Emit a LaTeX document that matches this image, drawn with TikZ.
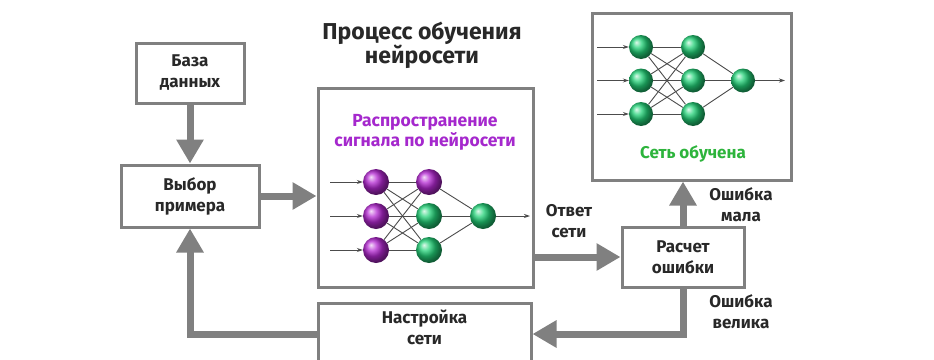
\documentclass[tikz,border=0pt]{standalone}
\usepackage{fontspec}
\setmainfont{Fira Sans}
\usetikzlibrary{arrows.meta,positioning}
\definecolor{linegray}{RGB}{128,128,128}
\definecolor{textgray}{RGB}{40,40,40}
\definecolor{nnpurple}{RGB}{180,40,210}
\definecolor{nngreen}{RGB}{35,210,120}
\definecolor{labelpurple}{RGB}{165,40,205}
\definecolor{labelgreen}{RGB}{45,180,60}

\begin{document}
\begin{tikzpicture}[
		x=1pt, y=-1pt,
		every node/.style={font=\bfseries\fontsize{17}{21}\selectfont, text=textgray, align=center},
		block/.style={draw=linegray, line width=3pt, fill=white, rectangle, inner sep=0pt},
		conn/.style={draw=linegray, line width=7pt, -{Triangle[width=26pt,length=24pt]}},
		neuron/.style={circle, inner sep=0pt, minimum size=26pt},
		violetn/.style={neuron, ball color=nnpurple},
		greenn/.style={neuron, ball color=nngreen},
		wire/.style={draw=black!70, line width=0.9pt},
		pin/.style={wire, -{Stealth[length=6pt,width=4pt]}}
		]
		
		\useasboundingbox (0,0) rectangle (934,359);
		\clip (0,0) rectangle (934,359);
		
		% Title
		\node[font=\bfseries\fontsize{23}{24}\selectfont] (title) at (422,45) {Процесс обучения\\нейросети};
		
		% Data base
		\node[block, minimum width=108pt, minimum height=60pt] (db) at (190,73) {База\\данных};
		
		% Sample choice
		\node[block, minimum width=138pt, minimum height=62pt] (choice) at (190,196) {Выбор\\примера};
		
		% Signal propagation
		\node[block, minimum width=215pt, minimum height=199pt] (prop) at (425.5,187.5) {};
		\node[text=labelpurple, font=\bfseries\fontsize{17.5}{20}\selectfont] (proplabel) at (425,132) {Распространение\\сигнала по нейросети};
		
		% Trained network
		\node[block, minimum width=199pt, minimum height=167pt] (trained) at (691.5,96.5) {};
		\node[text=labelgreen, font=\bfseries\fontsize{17}{19}\selectfont] (trainedlabel) at (693,154) {Сеть обучена};
		
		% Error calculation
		\node[block, minimum width=122pt, minimum height=60pt] (err) at (683,257) {Расчет\\ошибки};
		
		% Network tuning
		\node[block, minimum width=213pt, minimum height=62pt, text depth=14pt] (tune) at (424.5,334) {Настройка\\сети};
		
		% Labels
		\node (answer) at (569,221) {Ответ\\сети};
		\node (small) at (741,205) {Ошибка\\мала};
		\node (big) at (741,312) {Ошибка\\велика};
		
		% Arrows
		\draw[conn] (db) -- (choice);
		\draw[conn] (choice.east) -- (choice.east -| prop.west);
		\draw[conn] (prop.east |- err) -- (err);
		\draw[conn] (err.north) -- (err.north |- trained.south);
		\draw[conn] (err.south) |- (tune.east);
		\draw[conn] (tune.west) -| (choice.south);
		
		% Propagation network
		\foreach \j/\y in {1/182,2/216,3/250}{
			\node[violetn] (pa\j) at (376,\y) {};
			\coordinate (pin\j) at (330,\y);
			\draw[pin] (pin\j) -- (pa\j);
		}
		\node[violetn] (pb1) at (429,182) {};
		\node[greenn] (pb2) at (429,216) {};
		\node[greenn] (pb3) at (429,250) {};
		\node[greenn] (pc) at (483,216) {};
		\coordinate (pout) at (530,216);
		\foreach \i in {1,2,3}{
			\foreach \j in {1,2,3}
				\draw[wire] (pa\i) -- (pb\j);
			\draw[wire] (pb\i) -- (pc);
		}
		\draw[pin] (pc) -- (pout);
		
		% Trained network
		\foreach \j/\y in {1/47,2/80.5,3/114}{
			\node[greenn, minimum size=24pt] (ta\j) at (641,\y) {};
			\node[greenn, minimum size=24pt] (tb\j) at (693,\y) {};
			\coordinate (tin\j) at (597,\y);
			\draw[pin] (tin\j) -- (ta\j);
		}
		\node[greenn, minimum size=24pt] (tc) at (743,80.5) {};
		\coordinate (tout) at (785,80.5);
		\foreach \i in {1,2,3}{
			\foreach \j in {1,2,3}
				\draw[wire] (ta\i) -- (tb\j);
			\draw[wire] (tb\i) -- (tc);
		}
		\draw[pin] (tc) -- (tout);
		
	\end{tikzpicture}
\end{document}
